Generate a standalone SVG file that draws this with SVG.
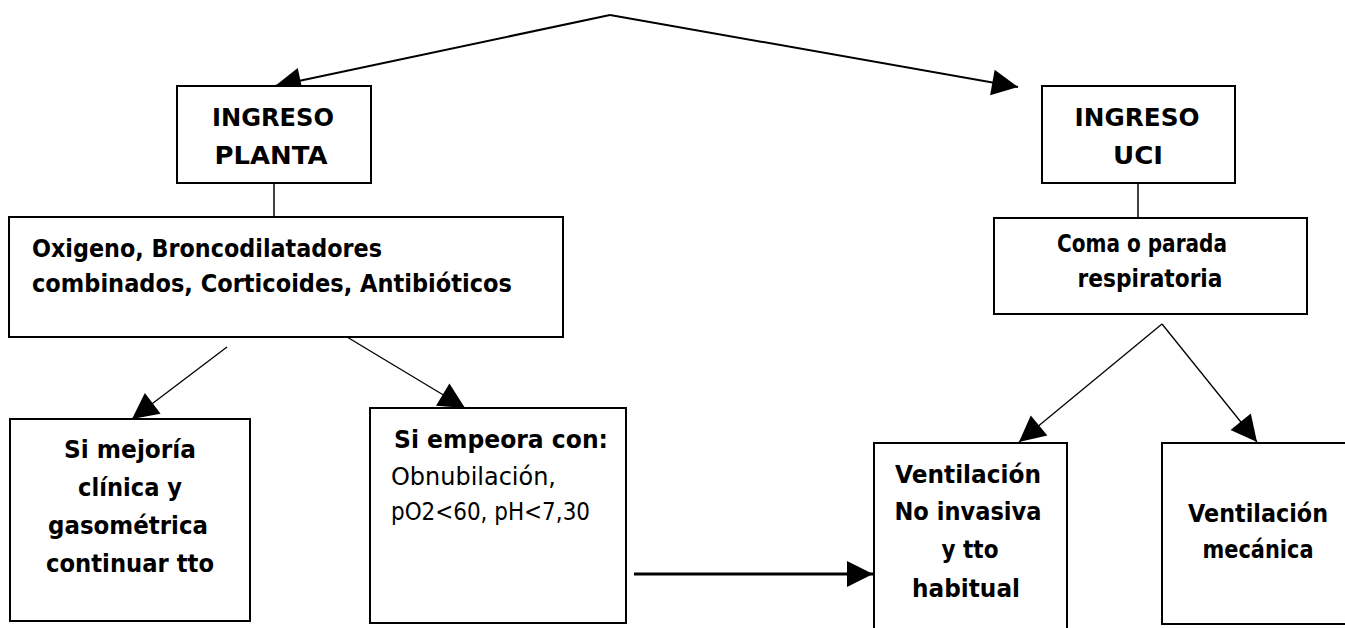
<svg xmlns="http://www.w3.org/2000/svg" width="1345" height="628" viewBox="0 0 1345 628">
<defs>
<marker id="ah" markerUnits="userSpaceOnUse" markerWidth="27" markerHeight="27" refX="26" refY="13" orient="auto" overflow="visible">
<path d="M0,0 L26,13 L0,26 z" fill="#000"/>
</marker>
<style>
.box{fill:#fff;stroke:#000;stroke-width:2}
.t{font-family:"Comic Sans MS","DejaVu Sans",sans-serif;font-size:25px;font-weight:bold;fill:#000}
.r{font-weight:normal}
.c{stroke:#000;fill:none}
</style>
</defs>
<rect width="1345" height="628" fill="#fff"/>
<g id="connectors">
<line class="c" x1="610" y1="15" x2="275" y2="86" stroke-width="2" marker-end="url(#ah)"/>
<line class="c" x1="610" y1="15" x2="1018" y2="87" stroke-width="2" marker-end="url(#ah)"/>
<line class="c" x1="274" y1="183" x2="274" y2="229" stroke-width="1.5"/>
<line class="c" x1="1138" y1="183" x2="1138" y2="228" stroke-width="1.5"/>
<line class="c" x1="227" y1="347" x2="132" y2="419" stroke-width="1.3" marker-end="url(#ah)"/>
<line class="c" x1="347" y1="337" x2="465" y2="408" stroke-width="1.3" marker-end="url(#ah)"/>
<line class="c" x1="1162" y1="324" x2="1019" y2="442" stroke-width="1.3" marker-end="url(#ah)"/>
<line class="c" x1="1162" y1="324" x2="1257" y2="442" stroke-width="1.3" marker-end="url(#ah)"/>
<line class="c" x1="634" y1="574" x2="873" y2="574" stroke-width="3" marker-end="url(#ah)"/>
</g>
<g id="ingreso-planta">
<rect class="box" x="177" y="86" width="194" height="97"/>
<text class="t" x="273" y="126" text-anchor="middle" textLength="122" lengthAdjust="spacingAndGlyphs">INGRESO</text>
<text class="t" x="271" y="164" text-anchor="middle" textLength="113" lengthAdjust="spacingAndGlyphs">PLANTA</text>
</g>
<g id="ingreso-uci">
<rect class="box" x="1042" y="86" width="193" height="97"/>
<text class="t" x="1137" y="126" text-anchor="middle" textLength="125" lengthAdjust="spacingAndGlyphs">INGRESO</text>
<text class="t" x="1138" y="164" text-anchor="middle" textLength="50" lengthAdjust="spacingAndGlyphs">UCI</text>
</g>
<g id="tratamiento">
<rect class="box" x="9" y="217" width="554" height="120"/>
<text class="t" x="32" y="257" textLength="350" lengthAdjust="spacingAndGlyphs">Oxigeno, Broncodilatadores</text>
<text class="t" x="32" y="292" textLength="480" lengthAdjust="spacingAndGlyphs">combinados, Corticoides, Antibióticos</text>
</g>
<g id="coma">
<rect class="box" x="994" y="218" width="313" height="96"/>
<text class="t" x="1142" y="252" text-anchor="middle" textLength="170" lengthAdjust="spacingAndGlyphs">Coma o parada</text>
<text class="t" x="1150" y="287" text-anchor="middle" textLength="145" lengthAdjust="spacingAndGlyphs">respiratoria</text>
</g>
<g id="mejoria">
<rect class="box" x="10" y="419" width="240" height="202"/>
<text class="t" x="130" y="458" text-anchor="middle" textLength="132" lengthAdjust="spacingAndGlyphs">Si mejoría</text>
<text class="t" x="130" y="496" text-anchor="middle" textLength="104" lengthAdjust="spacingAndGlyphs">clínica y</text>
<text class="t" x="128" y="534" text-anchor="middle" textLength="160" lengthAdjust="spacingAndGlyphs">gasométrica</text>
<text class="t" x="130" y="572" text-anchor="middle" textLength="168" lengthAdjust="spacingAndGlyphs">continuar tto</text>
</g>
<g id="empeora">
<rect class="box" x="370" y="408" width="256" height="215"/>
<text class="t" x="394" y="448" textLength="214" lengthAdjust="spacingAndGlyphs">Si empeora con:</text>
<text class="t r" x="391" y="485" textLength="165" lengthAdjust="spacingAndGlyphs">Obnubilación,</text>
<text class="t r" x="391" y="520" textLength="199" lengthAdjust="spacingAndGlyphs">pO2&lt;60, pH&lt;7,30</text>
</g>
<g id="vni">
<rect class="box" x="874" y="443" width="193" height="200"/>
<text class="t" x="968" y="483" text-anchor="middle" textLength="146" lengthAdjust="spacingAndGlyphs">Ventilación</text>
<text class="t" x="968" y="520" text-anchor="middle" textLength="147" lengthAdjust="spacingAndGlyphs">No invasiva</text>
<text class="t" x="970" y="558" text-anchor="middle" textLength="57" lengthAdjust="spacingAndGlyphs">y tto</text>
<text class="t" x="966" y="597" text-anchor="middle" textLength="108" lengthAdjust="spacingAndGlyphs">habitual</text>
</g>
<g id="vm">
<rect class="box" x="1162" y="443" width="200" height="181"/>
<text class="t" x="1258" y="522" text-anchor="middle" textLength="140" lengthAdjust="spacingAndGlyphs">Ventilación</text>
<text class="t" x="1258" y="558" text-anchor="middle" textLength="111" lengthAdjust="spacingAndGlyphs">mecánica</text>
</g>
</svg>
